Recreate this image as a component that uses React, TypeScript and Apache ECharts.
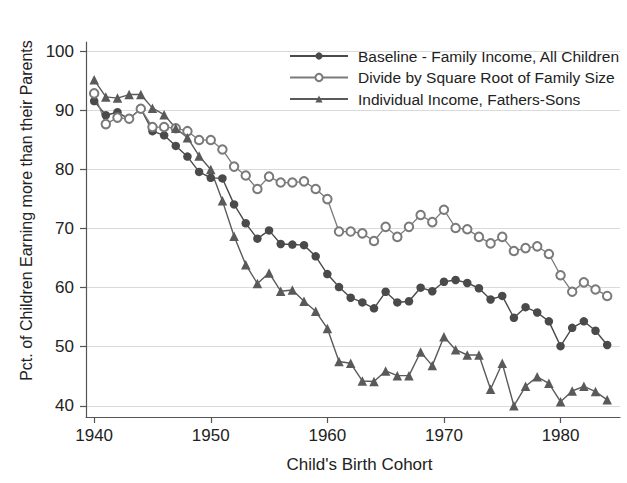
import React, { useEffect, useRef } from "react";
import * as echarts from "echarts";

const years: number[] = [];
for (let y = 1940; y <= 1984; y++) years.push(y);

const baseline = [
  91.6, 89.2, 89.7, 88.6, 90.3, 86.5, 85.8, 84.0, 82.2, 79.6,
  78.6, 78.5, 74.1, 70.9, 68.3, 69.7, 67.4, 67.3, 67.2, 65.3,
  62.3, 60.1, 58.3, 57.5, 56.5, 59.3, 57.5, 57.7, 60.0, 59.4,
  61.0, 61.3, 60.8, 59.9, 58.0, 58.6, 54.9, 56.7, 55.8, 54.3,
  50.1, 53.2, 54.3, 52.7, 50.3,
];
const sqrtSize = [
  92.9, 87.7, 88.8, 88.6, 90.3, 87.2, 87.2, 87.0, 86.5, 85.0,
  85.0, 83.4, 80.5, 79.0, 76.7, 78.8, 77.8, 77.8, 78.0, 76.7,
  75.0, 69.5, 69.5, 69.2, 67.9, 70.3, 68.6, 70.3, 72.3, 71.1,
  73.2, 70.1, 69.9, 68.6, 67.5, 68.6, 66.2, 66.7, 67.0, 65.7,
  62.1, 59.3, 60.9, 59.7, 58.6,
];
const fathersSons = [
  95.2, 92.3, 92.1, 92.7, 92.7, 90.4, 89.3, 87.0, 85.4, 82.3,
  80.0, 74.7, 68.7, 63.9, 60.7, 62.5, 59.4, 59.6, 57.7, 56.0,
  53.1, 47.5, 47.2, 44.2, 44.1, 45.9, 45.1, 45.1, 49.1, 46.8,
  51.7, 49.5, 48.6, 48.6, 42.8, 47.2, 40.0, 43.3, 44.9, 43.8,
  40.7, 42.5, 43.3, 42.4, 41.0,
];

const xTicks = [1940, 1950, 1960, 1970, 1980];
const yTicks = [40, 50, 60, 70, 80, 90, 100];

const seriesNames = [
  "Baseline - Family Income, All Children",
  "Divide by Square Root of Family Size",
  "Individual Income, Fathers-Sons",
];

const FONT = "'Liberation Sans', Arial, Helvetica, sans-serif";

export default function App() {
  const ref = useRef<HTMLDivElement>(null);
  useEffect(() => {
    if (!ref.current) return;
    const chart = echarts.init(ref.current, undefined, { renderer: "svg" });
    const pair = (vals: number[]) => years.map((y, i) => [y, vals[i]]);
    chart.setOption({
      animation: false,
      backgroundColor: "#ffffff",
      textStyle: { fontFamily: FONT },
      grid: { left: 86, right: 7, top: 42, bottom: 66, containLabel: false },
      legend: {
        orient: "vertical",
        left: 284,
        top: 43,
        itemWidth: 58,
        itemHeight: 9,
        itemGap: 5.5,
        textStyle: { fontSize: 15.5, color: "#222", fontFamily: FONT, lineHeight: 16, padding: [0, 0, 0, 5] },
        data: seriesNames,
      },
      xAxis: {
        type: "value",
        min: 1939.3,
        max: 1985.1,
        name: "Child's Birth Cohort",
        nameLocation: "middle",
        nameGap: 39,
        nameTextStyle: { fontSize: 17, color: "#222", fontFamily: FONT, padding: [0, 0, 0, 13] },
        axisLine: { show: true, lineStyle: { color: "#555", width: 1.2 } },
        axisTick: { show: true, length: 6, customValues: xTicks, lineStyle: { color: "#555", width: 1.2 } },
        axisLabel: {
          customValues: xTicks,
          margin: 10,
          fontSize: 17,
          color: "#222",
          fontFamily: FONT,
          formatter: (v: number) => String(v),
        },
        splitLine: { show: false },
      },
      yAxis: {
        type: "value",
        min: 38.1,
        max: 101.6,
        name: "Pct. of Children Earning more than their Parents",
        nameLocation: "middle",
        nameGap: 50,
        nameTextStyle: { fontSize: 16, color: "#222", fontFamily: FONT, padding: [0, 0, 0, 38] },
        axisLine: { show: true, lineStyle: { color: "#555", width: 1.2 } },
        axisTick: { show: true, length: 6, customValues: yTicks, lineStyle: { color: "#555", width: 1.2 } },
        axisLabel: { customValues: yTicks, margin: 12, fontSize: 17, color: "#222", fontFamily: FONT },
        splitLine: { show: true, lineStyle: { color: "#dadada", width: 1.2 } },
      },
      series: [
        {
          name: seriesNames[0],
          type: "line",
          data: pair(baseline),
          symbol: "circle",
          symbolSize: 8.5,
          showAllSymbol: true,
          lineStyle: { color: "#4a4a4a", width: 1.4 },
          itemStyle: { color: "#4a4a4a" },
        },
        {
          name: seriesNames[1],
          type: "line",
          data: pair(sqrtSize),
          symbol: "emptyCircle",
          symbolSize: 8.5,
          showAllSymbol: true,
          lineStyle: { color: "#7a7a7a", width: 1.3 },
          itemStyle: { color: "#7a7a7a", borderColor: "#7a7a7a", borderWidth: 1.1 },
        },
        {
          name: seriesNames[2],
          type: "line",
          data: pair(fathersSons),
          symbol: "triangle",
          symbolSize: 9.5,
          showAllSymbol: true,
          lineStyle: { color: "#5a5a5a", width: 1.4 },
          itemStyle: { color: "#5a5a5a" },
        },
      ],
    });
    return () => chart.dispose();
  }, []);
  return (
    <div
      ref={ref}
      style={{ position: "fixed", left: 0, top: 0, width: 627, height: 483, background: "#fff" }}
    />
  );
}
